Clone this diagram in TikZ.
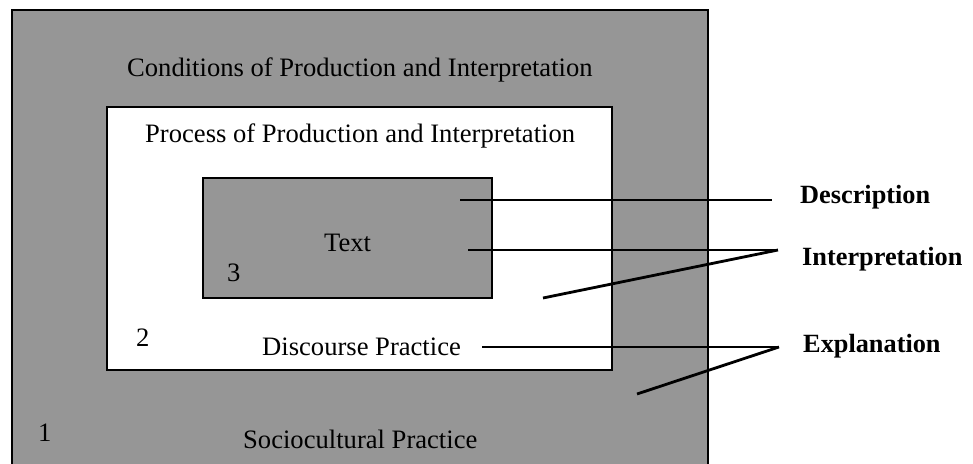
\documentclass[tikz,border=0pt]{standalone}
\usepackage{fontspec}
\setmainfont{Liberation Serif}
\definecolor{boxgray}{RGB}{150,150,150}
\begin{document}
\begin{tikzpicture}[x=1pt,y=-1pt,
  box/.style={draw=black, line width=2pt, anchor=north west, inner sep=0pt, outer sep=0pt},
  lbl/.style={font=\fontsize{26.6}{30}\selectfont, inner sep=0pt, anchor=base west},
  blbl/.style={lbl, font=\fontsize{26.3}{30}\selectfont\bfseries},
  conn/.style={line width=2.8pt}]
\useasboundingbox (0,0) rectangle (973,463);
\clip (0,0) rectangle (973,463);
% boxes
\node[box, fill=boxgray, minimum width=696pt, minimum height=480pt] (outer) at (12,10) {};
\node[box, fill=white, minimum width=505pt, minimum height=263pt] (inner) at (107,107) {};
\node[box, fill=boxgray, minimum width=289pt, minimum height=120pt] (textbox) at (203,178) {};
% texts
\node[lbl] (cond) at (127,76) {Conditions of Production and Interpretation};
\node[lbl] (proc) at (145,142) {Process of Production and Interpretation};
\node[lbl] (text) at (324,251) {Text};
\node[lbl] (n3) at (227,281) {3};
\node[lbl] (n2) at (136,346) {2};
\node[lbl] (disc) at (262,355) {Discourse Practice};
\node[lbl] (soc) at (243,448) {Sociocultural Practice};
\node[lbl] (n1) at (38,441) {1};
\node[blbl] (desc) at (800,203) {Description};
\node[blbl] (interp) at (802,265) {Interpretation};
\node[blbl] (expl) at (803,352) {Explanation};
% connector end points
\coordinate (d1) at (460,200);
\coordinate (d2) at (772,200);
\coordinate (i1) at (468,250);
\coordinate (i2) at (543,298);
\coordinate (i3) at (778,250);
\coordinate (e1) at (482,347);
\coordinate (e2) at (637,394);
\coordinate (e3) at (779,347);
% connectors
\draw[conn] (d1) -- (d2);
\draw[conn] (i1) -- (i3);
\draw[conn] (i2) -- (i3);
\draw[conn] (e1) -- (e3);
\draw[conn] (e2) -- (e3);
\end{tikzpicture}
\end{document}
